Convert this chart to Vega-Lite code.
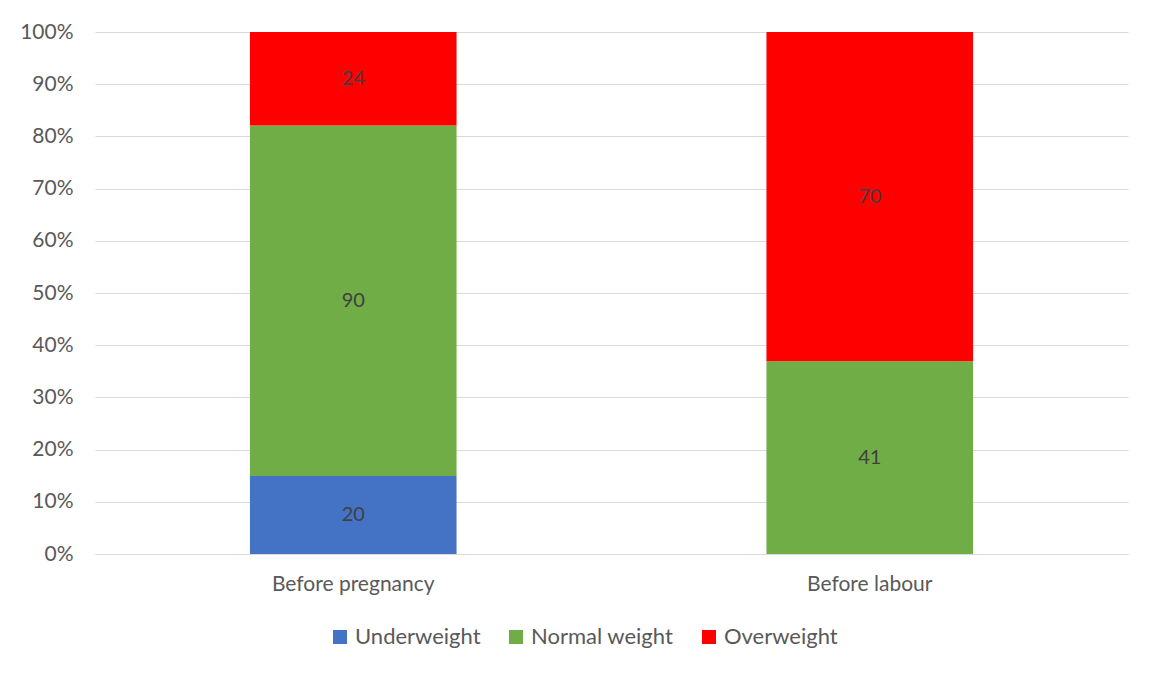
{
  "$schema": "https://vega.github.io/schema/vega-lite/v6.json",
  "width": 1033,
  "height": 522,
  "autosize": "none",
  "padding": {"left": 95, "top": 32, "right": 27, "bottom": 120},
  "background": "white",
  "config": {
    "view": {"stroke": null},
    "font": "Lato",
    "axis": {"labelFont": "Lato", "labelFontSize": 21, "labelColor": "#595959", "titleColor": "#595959"},
    "legend": {"labelFont": "Lato"}
  },
  "data": {
    "values": [
      {"stage": "Before pregnancy", "category": "Underweight", "count": 20},
      {"stage": "Before pregnancy", "category": "Normal weight", "count": 90},
      {"stage": "Before pregnancy", "category": "Overweight", "count": 24},
      {"stage": "Before labour", "category": "Normal weight", "count": 41},
      {"stage": "Before labour", "category": "Overweight", "count": 70}
    ]
  },
  "transform": [
    {"calculate": "indexof(['Underweight','Normal weight','Overweight'], datum.category)", "as": "ord"},
    {"stack": "count", "groupby": ["stage"], "sort": [{"field": "ord", "order": "ascending"}], "offset": "normalize", "as": ["y0", "y1"]},
    {"calculate": "(datum.y0 + datum.y1) / 2", "as": "mid"}
  ],
  "encoding": {
    "x": {
      "field": "stage",
      "type": "nominal",
      "sort": ["Before pregnancy", "Before labour"],
      "scale": {"paddingInner": 0.6, "paddingOuter": 0.3},
      "axis": {"title": null, "labelAngle": 0, "ticks": false, "domain": true, "domainColor": "#d9d9d9", "labelPadding": 19}
    }
  },
  "layer": [
    {
      "mark": {"type": "bar"},
      "encoding": {
        "y": {
          "field": "y1",
          "type": "quantitative",
          "scale": {"domain": [0, 1]},
          "axis": {"title": null, "format": ".0%", "values": [0, 0.1, 0.2, 0.3, 0.4, 0.5, 0.6, 0.7, 0.8, 0.9, 1], "grid": true, "gridColor": "#d9d9d9", "domain": false, "ticks": false, "labelPadding": 22}
        },
        "y2": {"field": "y0"},
        "color": {
          "field": "category",
          "type": "nominal",
          "sort": ["Underweight", "Normal weight", "Overweight"],
          "scale": {"domain": ["Underweight", "Normal weight", "Overweight"], "range": ["#4472C4", "#70AD47", "#FF0000"]},
          "legend": {
            "title": null,
            "orient": "none",
            "direction": "horizontal",
            "legendX": 234,
            "legendY": 594,
            "symbolType": "square",
            "symbolSize": 196,
            "symbolStrokeWidth": 0,
            "labelFontSize": 22,
            "labelColor": "#595959",
            "columnPadding": 24,
            "labelOffset": 4
          }
        }
      }
    },
    {
      "mark": {"type": "text", "fontSize": 20, "color": "#404040", "baseline": "middle"},
      "encoding": {
        "y": {"field": "mid", "type": "quantitative"},
        "text": {"field": "count", "type": "quantitative"}
      }
    }
  ]
}
